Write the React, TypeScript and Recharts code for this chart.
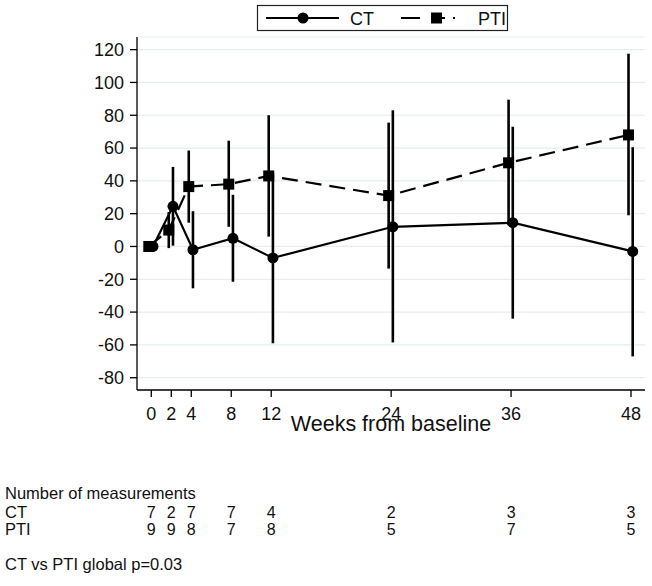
import { ComposedChart, Line, XAxis, YAxis, CartesianGrid, ErrorBar } from 'recharts';

const FONT = '"Liberation Sans", Arial, Helvetica, sans-serif';

// weeks from baseline + mean change with 95% CI, per arm
const weeks = [0, 2, 4, 8, 12, 24, 36, 48];
const ctMean = [0, 24.5, -2, 5, -7, 12, 14.5, -3];
const ctLow = [0, 0.5, -25.5, -21.5, -59, -58.5, -44, -67];
const ctHigh = [0, 48.5, 21.5, 31.5, 45, 83, 73, 60.5];
const ptiMean = [0, 10, 36.5, 38, 43, 31, 51, 68];
const ptiLow = [0, -1, 14.5, 12, 6, -13.5, 13, 19];
const ptiHigh = [0, 21, 58.5, 64.5, 80, 75.5, 89.5, 117.5];
const ctCount = [7, 2, 7, 7, 4, 2, 3, 3];
const ptiCount = [9, 9, 8, 7, 8, 5, 7, 5];
const yTicks = [-80, -60, -40, -20, 0, 20, 40, 60, 80, 100, 120];

// small horizontal dodge so the two arms don't overlap
const CT_SHIFT = 0.17;
const PTI_SHIFT = -0.25;
const X_DOMAIN = [-1.43, 49.4];

const ctData = weeks.map((w, i) => ({
  x: w + CT_SHIFT,
  y: ctMean[i],
  err: [ctMean[i] - ctLow[i], ctHigh[i] - ctMean[i]],
}));
const ptiData = weeks.map((w, i) => ({
  x: w + PTI_SHIFT,
  y: ptiMean[i],
  err: [ptiMean[i] - ptiLow[i], ptiHigh[i] - ptiMean[i]],
}));
// rows of the "number of measurements" table, one axis each
const countRows = weeks.map((w) => ({ x: w, y: 0 }));

const SquareDot = (p: any) => {
  if (p.cx == null || p.cy == null) return <g key={`sq-${p.index}`} />;
  return <rect key={`sq-${p.index}`} x={p.cx - 5.5} y={p.cy - 5.5} width={11} height={11} fill="#000" />;
};

export default function App() {
  const tickStyle = { fontSize: 18, fill: '#111', fontFamily: FONT };
  const countStyle = { fontSize: 16, fill: '#111', fontFamily: FONT };
  return (
    <div style={{ position: 'absolute', left: 0, top: 0, width: 652, height: 586, background: '#fff' }}>
      <ComposedChart width={652} height={586} margin={{ top: 37, right: 7, left: 0, bottom: 46 }}>
        <CartesianGrid xAxisId="a_main" vertical={false} stroke="#e6eef0" strokeWidth={1.2} />
        <XAxis
          xAxisId="a_main"
          type="number"
          dataKey="x"
          domain={X_DOMAIN}
          allowDataOverflow
          ticks={weeks}
          interval={0}
          height={44}
          tickSize={7}
          tickMargin={10}
          tick={tickStyle}
          stroke="#000"
          strokeWidth={1.3}
          label={{ value: 'Weeks from baseline', position: 'insideBottom', offset: 3, fontSize: 21.5, fill: '#111', fontFamily: FONT }}
        />
        <XAxis
          xAxisId="b_ct"
          type="number"
          dataKey="x"
          domain={X_DOMAIN}
          allowDataOverflow
          ticks={weeks}
          interval={0}
          height={86}
          axisLine={false}
          tickLine={false}
          tickSize={0}
          tickMargin={72.5}
          tick={countStyle}
          tickFormatter={(v: number) => String(ctCount[weeks.indexOf(v)])}
        />
        <XAxis
          xAxisId="c_pti"
          type="number"
          dataKey="x"
          domain={X_DOMAIN}
          allowDataOverflow
          ticks={weeks}
          interval={0}
          height={20}
          axisLine={false}
          tickLine={false}
          tickSize={0}
          tickMargin={3.5}
          tick={countStyle}
          tickFormatter={(v: number) => String(ptiCount[weeks.indexOf(v)])}
        />
        <YAxis
          type="number"
          domain={[-87.5, 127.7]}
          allowDataOverflow
          ticks={yTicks}
          interval={0}
          width={137}
          tickSize={7}
          tickMargin={6}
          tick={tickStyle}
          stroke="#000"
          strokeWidth={1.3}
        />
        {/* invisible carriers so the count axes get their ticks */}
        <Line xAxisId="b_ct" data={countRows} dataKey="y" stroke="none" dot={false} activeDot={false} isAnimationActive={false} />
        <Line xAxisId="c_pti" data={countRows} dataKey="y" stroke="none" dot={false} activeDot={false} isAnimationActive={false} />
        <Line
          xAxisId="a_main"
          data={ptiData}
          dataKey="y"
          stroke="#000"
          strokeWidth={2.2}
          strokeDasharray="16 8"
          dot={SquareDot}
          activeDot={false}
          isAnimationActive={false}
        >
          <ErrorBar dataKey="err" width={0} stroke="#000" strokeWidth={2.6} direction="y" />
        </Line>
        <Line
          xAxisId="a_main"
          data={ctData}
          dataKey="y"
          stroke="#000"
          strokeWidth={2.2}
          dot={{ r: 5.5, fill: '#000', stroke: '#000', strokeWidth: 0 }}
          activeDot={false}
          isAnimationActive={false}
        >
          <ErrorBar dataKey="err" width={0} stroke="#000" strokeWidth={2.6} direction="y" />
        </Line>
      </ComposedChart>
      <svg
        width={652}
        height={586}
        style={{ position: 'absolute', left: 0, top: 0, pointerEvents: 'none' }}
        fontFamily={FONT}
      >
        <rect x={257.5} y={5.5} width={250} height={25} fill="#fff" stroke="#222" strokeWidth={1.2} />
        <line x1={266} x2={339} y1={18} y2={18} stroke="#000" strokeWidth={2.2} />
        <circle cx={303} cy={18} r={5.5} fill="#000" />
        <text x={350} y={24.5} fontSize={18} fill="#111">CT</text>
        <line x1={401} x2={473} y1={18} y2={18} stroke="#000" strokeWidth={2.2} strokeDasharray="19 11 14 8 2 30" />
        <rect x={431} y={12.5} width={11} height={11} fill="#000" />
        <text x={478} y={24.5} fontSize={18} fill="#111">PTI</text>
        <text x={5} y={499} fontSize={16.5} fill="#111">Number of measurements</text>
        <text x={5} y={518} fontSize={16.5} fill="#111">CT</text>
        <text x={5} y={535} fontSize={16.5} fill="#111">PTI</text>
        <text x={5} y={570} fontSize={16.5} fill="#111">CT vs PTI global p=0.03</text>
      </svg>
    </div>
  );
}
